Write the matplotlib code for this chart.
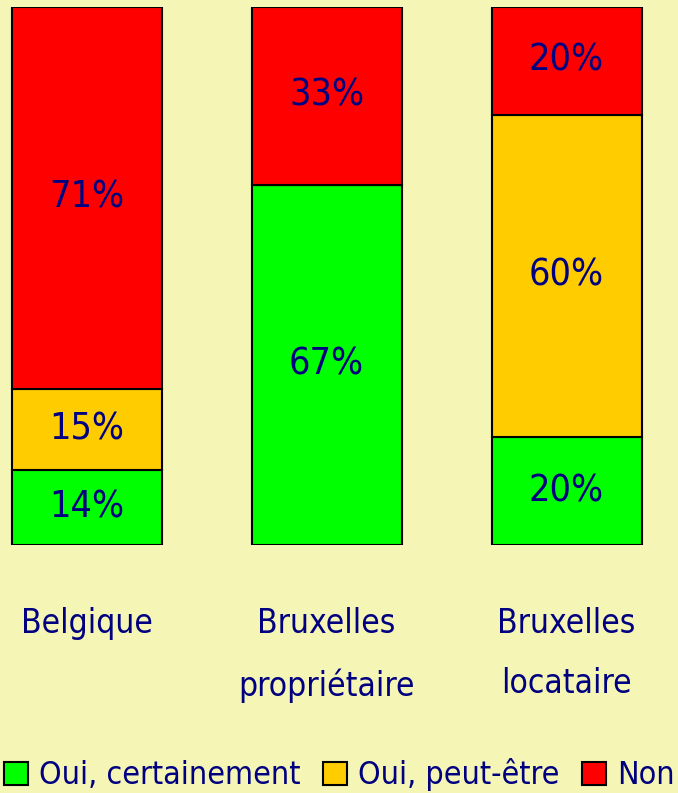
import matplotlib.pyplot as plt
from matplotlib import font_manager
from matplotlib.patches import Patch
import numpy as np

categories = ["Belgique", "Bruxelles\npropriétaire", "Bruxelles\nlocataire"]
series_names = ["Oui, certainement", "Oui, peut-être", "Non"]
oui_cert = [14, 67, 20]
oui_peut = [15, 0, 60]
non = [71, 33, 20]
colors = ["#00FF00", "#FFCC00", "#FF0000"]

bg = "#F5F5B5"
txt = "#000080"

names = {f.name for f in font_manager.fontManager.ttflist}
if "Liberation Sans Narrow" in names:
    fam = "Liberation Sans Narrow"
    stretch = "normal"
else:
    fam = "DejaVu Sans"
    stretch = "condensed"
plt.rcParams['font.family'] = [fam, 'DejaVu Sans']
plt.rcParams['font.stretch'] = stretch

fig = plt.figure(figsize=(6.78, 7.93), dpi=100, facecolor=bg)
ax = fig.add_axes([0, (793 - 545) / 793, 1, 538 / 793])
ax.set_facecolor(bg)

x = np.arange(len(categories))
bottom = np.zeros(len(categories))
for vals, col in zip([oui_cert, oui_peut, non], colors):
    vals = np.array(vals, dtype=float)
    ax.bar(x, vals, 0.625, bottom=bottom, color=col, edgecolor="black", linewidth=1.5)
    for xi, b, v in zip(x, bottom, vals):
        if v > 0:
            ax.text(xi, b + v / 2, f"{int(v)}%", ha="center", va="center",
                    color=txt, fontsize=27)
    bottom += vals

ax.set_xlim(-86.5 / 240, (678 - 86.5) / 240)
ax.set_ylim(0, 100)
ax.axis("off")

for xi, lab in zip(x, categories):
    ax.text(xi, -11.5, lab, ha="center", va="top", color=txt, fontsize=24,
            linespacing=2.05)

handles = [Patch(facecolor=c, edgecolor="black", linewidth=1.5) for c in colors]
fig.legend(handles, series_names, loc="lower center", ncol=3, frameon=False,
           bbox_to_anchor=(0.5, -0.002), fontsize=23, labelcolor=txt,
           handlelength=0.75, handleheight=0.75, handletextpad=0.35,
           columnspacing=0.7, borderpad=0.0, borderaxespad=0.1)

fig.savefig("out.png", dpi=100, facecolor=bg)
